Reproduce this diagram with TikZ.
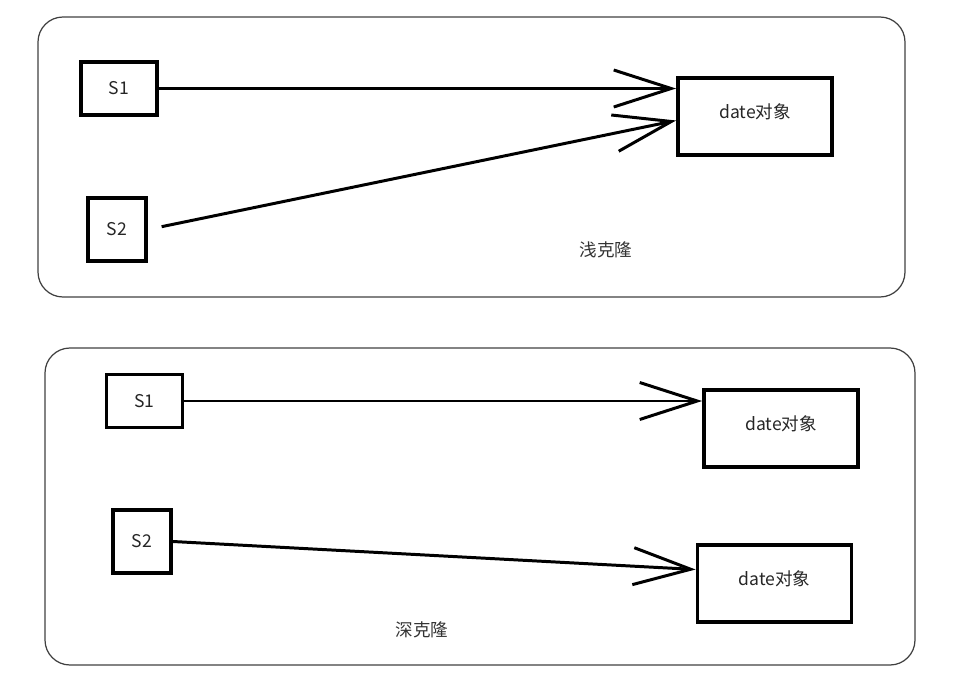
\documentclass[tikz,border=0pt]{standalone}
\usepackage{fontspec}
\setmainfont{Noto Sans CJK SC}
\usetikzlibrary{arrows.meta,calc}
\tikzset{
  panel/.style={draw=black!75, line width=0.7pt, rounded corners=0.5cm},
  obj/.style={draw, line width=2.2pt, inner sep=0pt, font=\normalsize, text=black!85},
  var/.style={obj, minimum width=1.52cm, minimum height=1.06cm},
  tallvar/.style={obj, minimum width=1.16cm, minimum height=1.26cm},
  dateobj/.style={obj, minimum width=3.08cm, minimum height=1.54cm},
  ref/.style={line width=1.7pt, -{Straight Barb[length=1.15cm,width=0.74cm]}},
  note/.style={font=\normalsize, text=black!80}
}
\begin{document}
\begin{tikzpicture}[x=0.02cm, y=-0.02cm]
    \useasboundingbox (0,0) rectangle (971,683);
    % Two panels
    \draw[panel] (38,17) rectangle (905,297);
    \draw[panel] (45,348) rectangle (915,665);

    % Shallow clone: both variables point to the same object
    \node[var]     (s1a)   at (119,88.5)  {S1};
    \node[tallvar] (s2a)   at (117,229.5) {S2};
    \node[dateobj] (datea) at (755,116.5) {date对象\rule[-0.2cm]{0pt}{0pt}};
    \draw[ref] (s1a.east) -- (s1a.east -| datea.west);
    \draw[ref, shorten <=0.28cm] (s2a.east) -- ($(datea.west)+(0,4)$);
    \node[note] (shallow) at (606,250) {浅克隆};

    % Deep clone: each variable has its own object
    \node[var]     (s1b)   at (144.5,401)  {S1};
    \node[tallvar] (s2b)   at (142,541.5)  {S2};
    \node[dateobj] (dateb) at (781,428.5)  {date对象\rule[-0.2cm]{0pt}{0pt}};
    \node[dateobj] (datec) at (774.5,583.5) {date对象\rule[-0.2cm]{0pt}{0pt}};
    \draw[ref] (s1b.east) -- (s1b.east -| dateb.west);
    \draw[ref] (s2b.east) -- ($(datec.west)+(0,-14)$);
    \node[note] (deep) at (422,630) {深克隆};
\end{tikzpicture}
\end{document}
